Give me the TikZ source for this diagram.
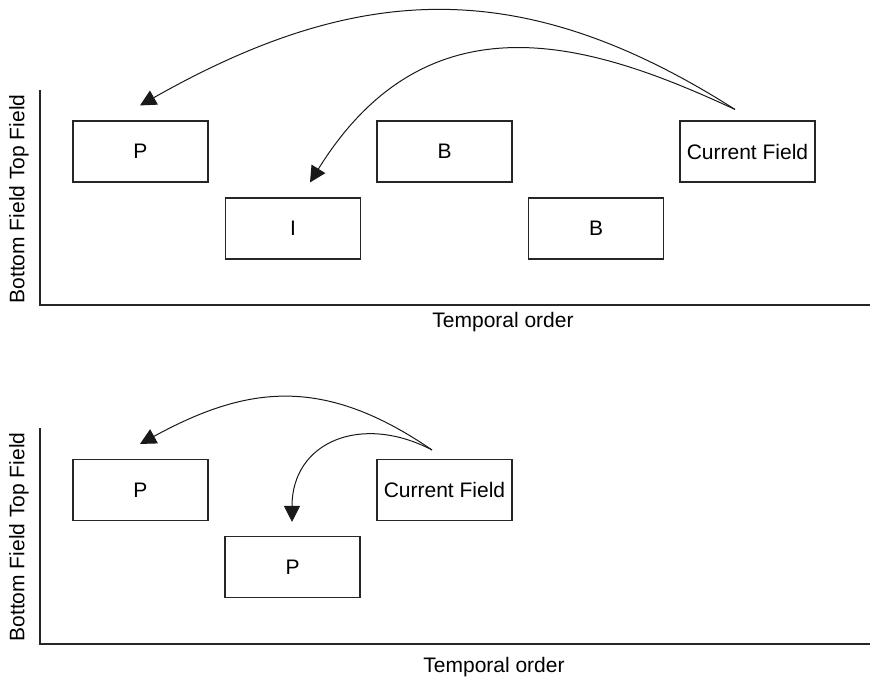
\documentclass[tikz,border=0pt]{standalone}
\usepackage{fontspec}
\setmainfont{Liberation Sans}
\usetikzlibrary{arrows.meta,calc}

\tikzset{
  frame/.style={draw=black!85, line width=1.1pt, minimum width=135pt, minimum height=61pt,
    inner sep=0pt, font=\fontsize{21}{25}\selectfont},
  axis/.style={draw=black!85, line width=1.4pt},
  axislabel/.style={font=\fontsize{21}{25}\selectfont, inner sep=0pt},
  ref/.style={draw=black!90, line width=1pt, -{Triangle[length=16pt,width=16pt]}}
}

\begin{document}
\begin{tikzpicture}[x=1pt, y=-1pt]
  \useasboundingbox (0,0) rectangle (872,680);

  % ---- upper panel: fields of a field-coded sequence ----
  \draw[axis] (40,90) -- (40,305) -- (870,305);
  \node[axislabel, rotate=90] (ylab1) at (19,199) {Bottom Field Top Field};
  \node[axislabel] (xlab1) at (503,322) {Temporal order};

  \node[frame] (p1)  at (140.5,151.5) {P};
  \node[frame] (i1)  at (293,228.5)   {I};
  \node[frame] (b1)  at (444.5,151.5) {B};
  \node[frame] (b2)  at (596,228.5)   {B};
  \node[frame] (cur) at (747.5,151.5) {Current Field};

  \coordinate (s1) at ($(cur.north)+(-12.5,-11)$);
  \coordinate (t1) at ($(p1.north)+(-0.5,-15)$);
  \coordinate (t2) at ($(i1.north)+(17,-15)$);

  \draw[ref] (s1) .. controls +(-212,-135) and +(219,-124) .. (t1);
  \draw[ref] (s1) .. controls +(-136,-63) and +(121,-195) .. (t2);

  % ---- lower panel: P-field references ----
  \draw[axis] (40,428) -- (40,644) -- (870,644);
  \node[axislabel, rotate=90] (ylab2) at (19,537) {Bottom Field Top Field};
  \node[axislabel] (xlab2) at (494,667) {Temporal order};

  \node[frame] (p3)   at (140.5,490)   {P};
  \node[frame] (p4)   at (292.5,567)   {P};
  \node[frame] (cur2) at (444.5,490)   {Current Field};

  \coordinate (s2) at ($(cur2.north)+(-12.5,-9)$);
  \coordinate (t3) at ($(p3.north)+(-0.5,-15)$);
  \coordinate (t4) at ($(p4.north)+(-0.5,-14)$);

  \draw[ref] (s2) .. controls +(-108,-74) and +(108,-59) .. (t3);
  \draw[ref] (s2) .. controls +(-71,-37) and +(0,-80) .. (t4);
\end{tikzpicture}
\end{document}
